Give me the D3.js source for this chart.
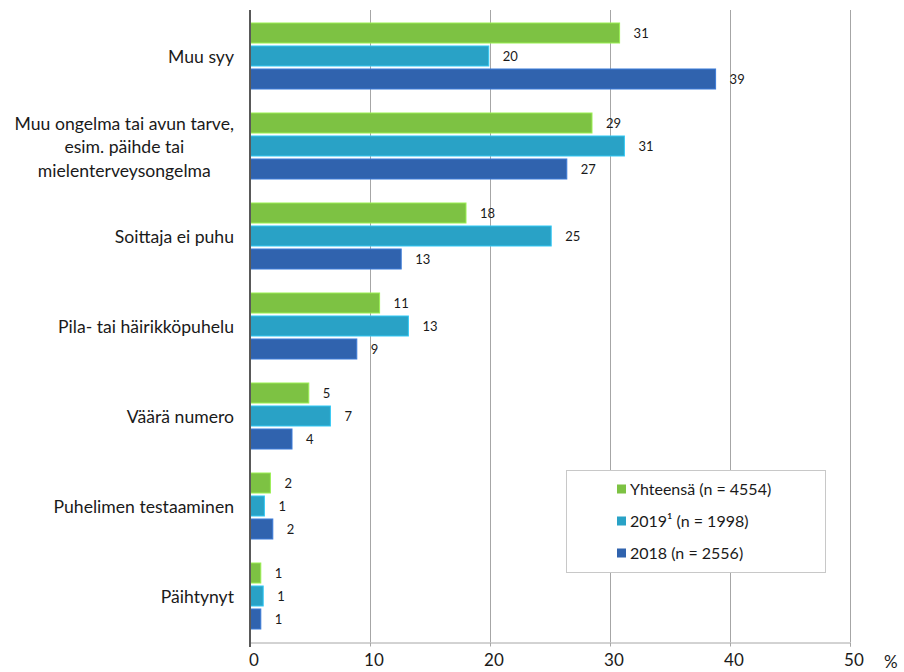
<!DOCTYPE html>
<html>
<head>
<meta charset="utf-8">
<script src="https://cdn.jsdelivr.net/npm/d3@7"></script>
<style>
body { margin: 0; background: #fff; }
text { font-family: Lato, "Open Sans", sans-serif; fill: #1a1a1a; }
</style>
</head>
<body>
<div id="chart"></div>
<script>
var categories = [
	["Muu syy"],
	["Muu ongelma tai avun tarve,", "esim. päihde tai", "mielenterveysongelma"],
	["Soittaja ei puhu"],
	["Pila- tai häirikköpuhelu"],
	["Väärä numero"],
	["Puhelimen testaaminen"],
	["Päihtynyt"]
];
var seriesNames = ["Yhteensä (n = 4554)", "2019¹ (n = 1998)", "2018 (n = 2556)"];
var seriesColors = ["#7dc243", "#29a2c6", "#3063ae"];
// bar lengths (%)
var totalValues = [30.8, 28.5, 18.0, 10.8, 4.9, 1.7, 0.9];
var y2019Values = [19.9, 31.2, 25.1, 13.2, 6.7, 1.2, 1.1];
var y2018Values = [38.8, 26.4, 12.6, 8.9, 3.5, 1.9, 0.9];
// printed labels
var totalLabels = [31, 29, 18, 11, 5, 2, 1];
var y2019Labels = [20, 31, 25, 13, 7, 1, 1];
var y2018Labels = [39, 27, 13, 9, 4, 2, 1];
var xTicks = [0, 10, 20, 30, 40, 50];

var width = 904, height = 672;
var plotLeft = 250, plotRight = 850, plotTop = 12, plotBottom = 642;

var svg = d3.select("#chart").append("svg")
	.attr("width", width).attr("height", height);

var x = d3.scaleLinear().domain([0, 50]).range([plotLeft, plotRight]);
var y = d3.scaleBand().domain(d3.range(categories.length)).range([plotTop, plotBottom]);
var inner = d3.scaleBand().domain([0, 1, 2]).range([11, 11 + 66]).paddingInner(0.13);

// gridlines
svg.append("g").selectAll("line").data(xTicks.slice(1))
	.enter().append("line")
	.attr("x1", function(d) { return x(d) + 0.5; })
	.attr("x2", function(d) { return x(d) + 0.5; })
	.attr("y1", 10).attr("y2", plotBottom)
	.style("stroke", "#a6a6a6").style("stroke-width", 1);

// bottom axis
var xAxis = svg.append("g").attr("transform", "translate(0," + (plotBottom + 0.5) + ")")
	.call(d3.axisBottom(x).tickValues(xTicks).tickSize(4).tickPadding(7));
xAxis.select(".domain").style("stroke", "#a6a6a6");
xAxis.selectAll(".tick line").style("stroke", "#a6a6a6");
xAxis.selectAll(".tick text").style("font-size", "17px").style("fill", "#1a1a1a")
	.attr("dx", "0.2em")
	.attr("font-family", "Lato, Open Sans, sans-serif");
svg.append("text").attr("x", 884).attr("y", 668).style("font-size", "17px").text("%");

var series = [
	{values: totalValues, labels: totalLabels},
	{values: y2019Values, labels: y2019Labels},
	{values: y2018Values, labels: y2018Labels}
];

var groups = svg.append("g").selectAll("g").data(categories)
	.enter().append("g")
	.attr("transform", function(d, i) { return "translate(0," + y(i) + ")"; });

groups.each(function(cat, ci) {
	var g = d3.select(this);
	series.forEach(function(s, si) {
		g.append("rect")
			.attr("x", x(0))
			.attr("y", inner(si))
			.attr("width", x(s.values[ci]) - x(0))
			.attr("height", inner.bandwidth())
			.style("fill", seriesColors[si])
			.style("stroke", d3.color(seriesColors[si]).brighter(0.6))
			.style("stroke-width", 1);
		g.append("text")
			.attr("x", x(s.values[ci]) + 14)
			.attr("y", inner(si) + inner.bandwidth() / 2)
			.attr("dy", "0.35em")
			.style("font-size", "13px")
			.text(s.labels[ci]);
	});
	// label block is right aligned, lines centred within the block
	var lineH = 23.5;
	var t = g.append("text")
		.attr("text-anchor", "middle")
		.style("font-size", "17.6px");
	var spans = cat.map(function(line, li) {
		return t.append("tspan")
			.attr("y", y.bandwidth() / 2 + (li - (cat.length - 1) / 2) * lineH)
			.attr("dy", "0.35em")
			.text(line);
	});
	var maxW = d3.max(spans, function(sp) { return sp.node().getComputedTextLength(); });
	spans.forEach(function(sp) { sp.attr("x", 234 - maxW / 2); });
});

// left axis line
svg.append("line")
	.attr("x1", plotLeft).attr("x2", plotLeft)
	.attr("y1", 10).attr("y2", plotBottom + 5)
	.style("stroke", "#595959").style("stroke-width", 2);

// legend
var legend = svg.append("g").attr("transform", "translate(566,470)");
legend.append("rect")
	.attr("x", 0.5).attr("y", 0.5).attr("width", 259).attr("height", 102)
	.style("fill", "#fff").style("stroke", "#c8c8c8");
seriesNames.forEach(function(name, i) {
	var ly = 19 + i * 32;
	legend.append("rect")
		.attr("x", 51).attr("y", ly - 4.5).attr("width", 9).attr("height", 9)
		.style("fill", seriesColors[i]);
	legend.append("text")
		.attr("x", 64).attr("y", ly).attr("dy", "0.35em")
		.style("font-size", "16px")
		.text(name);
});
</script>
</body>
</html>
